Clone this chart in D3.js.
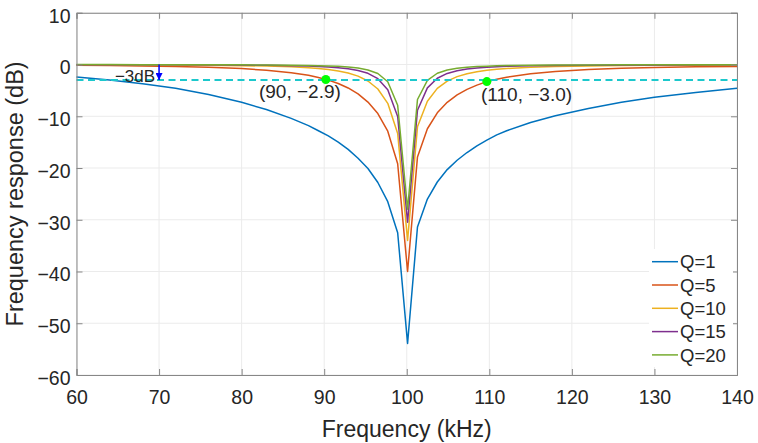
<!DOCTYPE html>
<html>
<head>
<meta charset="utf-8">
<script src="https://cdn.jsdelivr.net/npm/d3@7"></script>
<style>
    body { margin: 0; background: #fff; }
    text { font-family: "Liberation Sans", Arial, sans-serif; fill: #262626; }
</style>
</head>
<body>
<script>
// frequency samples (kHz)
var freq = [60, 64, 68, 72, 76, 80, 83, 86, 88.1, 89.3, 90.5, 91.7, 92.9, 94.1, 95.3, 96.5, 97.7, 98.9,
            100.1, 101.3, 102.5, 103.7, 104.9, 106.1, 107.3, 108.5, 109.7, 110.9, 112.1, 115, 118, 122, 126, 130, 135, 140];

// response in dB for each Q
var q1 = [-2.4, -3.0, -3.7, -4.6, -5.8, -7.3, -8.7, -10.4, -11.8, -12.8, -13.8, -15.0, -16.4, -18.1, -20.1, -22.8, -26.5, -32.5,
          -53.9, -31.4, -26.0, -22.7, -20.3, -18.5, -17.0, -15.7, -14.6, -13.6, -12.8, -11.2, -9.9, -8.5, -7.3, -6.3, -5.4, -4.6];
var q5 = [-0.15, -0.20, -0.27, -0.37, -0.53, -0.78, -1.09, -1.57, -2.09, -2.50, -3.01, -3.67, -4.53, -5.68, -7.25, -9.48, -12.89, -19.18,
          -40.0, -17.85, -12.41, -9.33, -7.30, -5.85, -4.79, -3.98, -3.3, -2.86, -2.46, -1.79, -1.34, -0.97, -0.73, -0.58, -0.44, -0.36];
var q10 = [-0.04, -0.05, -0.07, -0.10, -0.14, -0.21, -0.30, -0.45, -0.63, -0.77, -0.97, -1.25, -1.64, -2.24, -3.18, -4.73, -7.50, -13.31,
           -33.99, -12.04, -7.08, -4.61, -3.21, -2.34, -1.77, -1.38, -1.11, -0.91, -0.76, -0.52, -0.38, -0.26, -0.20, -0.15, -0.12, -0.09];
var q15 = [-0.02, -0.02, -0.03, -0.04, -0.06, -0.09, -0.14, -0.21, -0.29, -0.36, -0.46, -0.60, -0.81, -1.14, -1.70, -2.73, -4.85, -10.04,
           -30.47, -8.84, -4.51, -2.65, -1.72, -1.19, -0.88, -0.67, -0.53, -0.43, -0.35, -0.24, -0.17, -0.12, -0.09, -0.07, -0.05, -0.04];
var q20 = [-0.01, -0.01, -0.02, -0.02, -0.04, -0.05, -0.08, -0.12, -0.17, -0.21, -0.26, -0.35, -0.47, -0.68, -1.04, -1.74, -3.33, -7.86,
           -27.97, -6.76, -3.06, -1.68, -1.05, -0.71, -0.51, -0.39, -0.31, -0.25, -0.20, -0.14, -0.10, -0.07, -0.05, -0.04, -0.03, -0.02];

var seriesNames = ["Q=1", "Q=5", "Q=10", "Q=15", "Q=20"];
var xTicks = [60, 70, 80, 90, 100, 110, 120, 130, 140];
var yTicks = [-60, -50, -40, -30, -20, -10, 0, 10];

// -3 dB reference, marked points and annotations
var cutoffDb = -3;
var markerF = [90.2, 109.7];
var markerDb = [-2.9, -3.3];
var markerText = ["(90, \u22122.9)", "(110, \u22123.0)"];
var markerTextF = [82.1, 109.0];
var markerTextDb = [-6.5, -7.0];
var arrowF = 70;
var arrowText = "\u22123dB";

function init() {
    var w = 758;
    var h = 443;
    var left = 76.5, right = 737, top = 12.8, bottom = 375;

    var colors = ["#0072BD", "#D95319", "#EDB120", "#7E2F8E", "#77AC30"];
    var allSeries = [q1, q5, q10, q15, q20];

    var xScale = d3.scaleLinear().domain([60, 140]).range([left, right]);
    var yScale = d3.scaleLinear().domain([-60, 10]).range([bottom, top]);

    var svg = d3.select("body")
                .append("svg")
                .attr("width", w)
                .attr("height", h);

    svg.append("defs").append("marker")
        .attr("id", "arrow")
        .attr("viewBox", "0 0 10 10")
        .attr("refX", 10).attr("refY", 5)
        .attr("markerWidth", 7).attr("markerHeight", 7)
        .attr("markerUnits", "userSpaceOnUse")
        .attr("orient", "auto")
        .append("path")
        .attr("d", "M0,0L10,5L0,10z")
        .attr("fill", "#0000ff");

    // grid
    var grid = svg.append("g").attr("stroke", "#ebebeb").attr("stroke-width", 1);
    grid.selectAll(".gx").data(xTicks).enter().append("line")
        .attr("x1", function (d) { return xScale(d); })
        .attr("x2", function (d) { return xScale(d); })
        .attr("y1", top).attr("y2", bottom);
    grid.selectAll(".gy").data(yTicks).enter().append("line")
        .attr("y1", function (d) { return yScale(d); })
        .attr("y2", function (d) { return yScale(d); })
        .attr("x1", left).attr("x2", right);

    // curves
    var line = d3.line()
        .x(function (d, i) { return xScale(freq[i]); })
        .y(function (d) { return yScale(d); });

    svg.append("g")
        .selectAll("path")
        .data(allSeries)
        .enter()
        .append("path")
        .attr("d", line)
        .attr("fill", "none")
        .attr("stroke", function (d, i) { return colors[i]; })
        .attr("stroke-width", 1.5)
        .attr("stroke-linejoin", "round");

    // -3 dB dashed line
    svg.append("line")
        .attr("x1", xScale(60)).attr("x2", xScale(140))
        .attr("y1", yScale(cutoffDb)).attr("y2", yScale(cutoffDb))
        .attr("stroke", "#1cc8cc")
        .attr("stroke-width", 2)
        .attr("stroke-dasharray", "7,4.5");

    // arrow showing -3 dB
    svg.append("line")
        .attr("x1", xScale(arrowF)).attr("x2", xScale(arrowF))
        .attr("y1", yScale(0)).attr("y2", yScale(cutoffDb))
        .attr("stroke", "#0000ff")
        .attr("stroke-width", 1.5)
        .attr("marker-end", "url(#arrow)");
    svg.append("text")
        .attr("x", xScale(arrowF) - 4)
        .attr("y", yScale(cutoffDb) + 2)
        .attr("text-anchor", "end")
        .style("font-size", "17px")
        .text(arrowText);

    // green points and their labels
    svg.selectAll(".pt").data(markerF).enter().append("circle")
        .attr("cx", function (d) { return xScale(d); })
        .attr("cy", function (d, i) { return yScale(markerDb[i]); })
        .attr("r", 4.5)
        .attr("fill", "#00ff00");
    svg.selectAll(".pl").data(markerText).enter().append("text")
        .attr("x", function (d, i) { return xScale(markerTextF[i]); })
        .attr("y", function (d, i) { return yScale(markerTextDb[i]); })
        .style("font-size", "19px")
        .text(function (d) { return d; });

    // axes box with inward ticks
    var frame = "#878787";
    var xAxis = svg.append("g")
        .attr("transform", "translate(0," + bottom + ")")
        .call(d3.axisBottom(xScale).tickValues(xTicks).tickSize(-6).tickPadding(15).tickFormat(d3.format("d")));
    var xTop = svg.append("g")
        .attr("transform", "translate(0," + top + ")")
        .call(d3.axisTop(xScale).tickValues(xTicks).tickSize(-6).tickFormat(""));
    var yAxis = svg.append("g")
        .attr("transform", "translate(" + left + ",0)")
        .call(d3.axisLeft(yScale).tickValues(yTicks).tickSize(-6).tickPadding(6));
    var yRight = svg.append("g")
        .attr("transform", "translate(" + right + ",0)")
        .call(d3.axisRight(yScale).tickValues(yTicks).tickSize(-6).tickFormat(""));

    [xAxis, xTop, yAxis, yRight].forEach(function (a) {
        a.select(".domain").attr("stroke", frame);
        a.selectAll(".tick line").attr("stroke", frame);
        a.selectAll("text").style("font-size", "19.5px").attr("fill", "#262626");
    });
    yAxis.selectAll("text").attr("dy", "0.48em");

    svg.append("text")
        .attr("x", (left + right) / 2)
        .attr("y", 437)
        .attr("text-anchor", "middle")
        .style("font-size", "23px")
        .text("Frequency (kHz)");
    svg.append("text")
        .attr("transform", "translate(23," + (top + bottom) / 2 + ") rotate(-90)")
        .attr("text-anchor", "middle")
        .style("font-size", "23.5px")
        .text("Frequency response (dB)");

    // legend
    var legend = svg.append("g").attr("transform", "translate(649,249)");
    legend.append("rect")
        .attr("width", 84).attr("height", 118)
        .attr("fill", "#fff");
    var rows = legend.selectAll(".row").data(seriesNames).enter().append("g")
        .attr("transform", function (d, i) { return "translate(0," + (12.7 + i * 23.3) + ")"; });
    rows.append("line")
        .attr("x1", 3).attr("x2", 29)
        .attr("stroke", function (d, i) { return colors[i]; })
        .attr("stroke-width", 1.5);
    rows.append("text")
        .attr("x", 31)
        .attr("y", 6.7)
        .style("font-size", "18.5px")
        .text(function (d) { return d; });
}

window.onload = init;
</script>
</body>
</html>
